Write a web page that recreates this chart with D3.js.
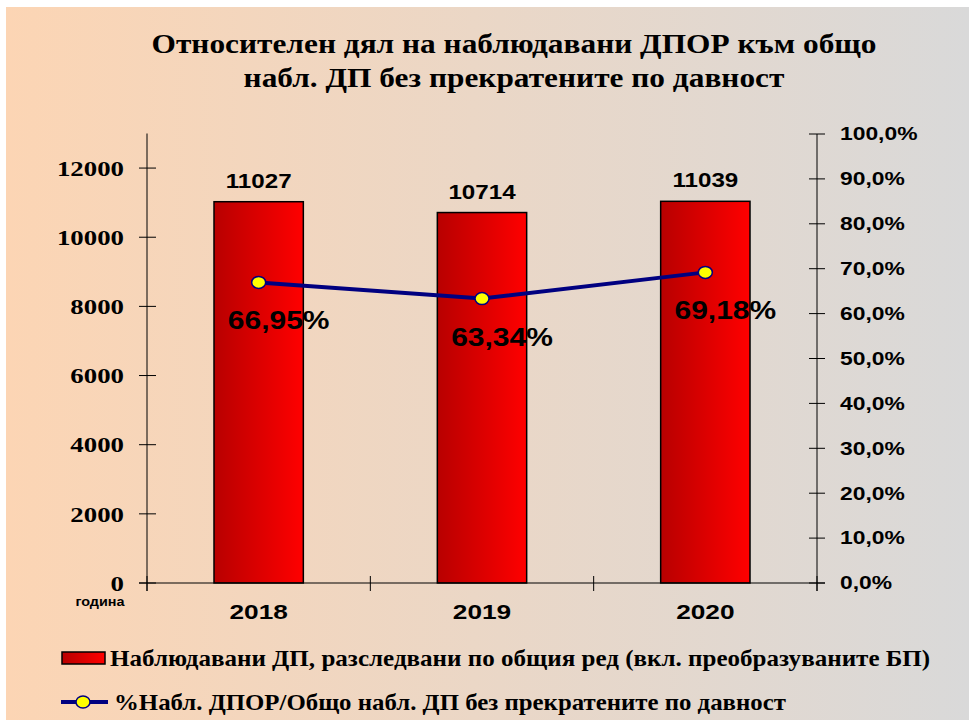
<!DOCTYPE html>
<html>
<head>
<meta charset="utf-8">
<script src="https://cdn.jsdelivr.net/npm/d3@7"></script>
<style>
  body { margin: 0; background: #fff; }
  text { font-weight: bold; fill: #000; }
  .serif { font-family: "Liberation Serif", "Times New Roman", "DejaVu Serif", serif; }
  .sans { font-family: "Liberation Sans", Arial, sans-serif; }
</style>
</head>
<body>
<script>
// data
let years = ["2018", "2019", "2020"];
let cases = [11027, 10714, 11039];
let shares = [0.6695, 0.6334, 0.6918];
let leftTicks = [0, 2000, 4000, 6000, 8000, 10000, 12000];
let rightTicks = [0, 0.1, 0.2, 0.3, 0.4, 0.5, 0.6, 0.7, 0.8, 0.9, 1.0];
let titleLines = ["Относителен дял на наблюдавани ДПОР към общо", "набл. ДП без прекратените по давност"];
let legendBar = "Наблюдавани ДП, разследвани по общия ред (вкл. преобразуваните БП)";
let legendLine = "%Набл. ДПОР/Общо набл. ДП без прекратените по давност";
let axisCaption = "година";

const W = 969, H = 720;

let locale = d3.formatLocale({ decimal: ",", thousands: "", grouping: [3], currency: ["", ""] });
let pct1 = locale.format(".1%");
let pct2 = locale.format(".2%");

let svg = d3.select("body").append("svg")
    .attr("width", W)
    .attr("height", H);

let defs = svg.append("defs");
let bgGrad = defs.append("linearGradient").attr("id", "bgGrad");
bgGrad.append("stop").attr("offset", "0%").attr("stop-color", "#fcd5b4");
bgGrad.append("stop").attr("offset", "100%").attr("stop-color", "#d9d9d9");
let barGrad = defs.append("linearGradient").attr("id", "barGrad");
barGrad.append("stop").attr("offset", "0%").attr("stop-color", "#b80000");
barGrad.append("stop").attr("offset", "100%").attr("stop-color", "#ff0000");

svg.append("rect")
    .attr("x", 6).attr("y", 7)
    .attr("width", W - 6).attr("height", H - 7)
    .attr("fill", "url(#bgGrad)");

// text helper, k = horizontal stretch
function label(g, str, x, y, opts) {
    let t = g.append("text")
        .attr("class", opts.serif ? "serif" : "sans")
        .attr("transform", `translate(${x},${y}) scale(${opts.k || 1},1)`)
        .attr("text-anchor", opts.anchor || "middle")
        .style("font-size", opts.size + "px")
        .text(str);
    if (opts.dy) t.attr("dy", opts.dy);
    return t;
}

// title
label(svg, titleLines[0], 514, 53, { serif: true, size: 28, k: 1.12 });
label(svg, titleLines[1], 514, 87, { serif: true, size: 28, k: 1.12 });

let x0 = 147, x1 = 817, yBase = 583;

let x = d3.scaleBand().domain(years).range([x0, x1]).padding(0);
let yL = d3.scaleLinear().domain([0, 13000]).range([yBase, 133.5]);
let yR = d3.scaleLinear().domain([0, 1]).range([yBase, 134]);

let barW = x.bandwidth() * 0.4;

// bars
svg.selectAll(".bar")
    .data(cases)
    .join("rect")
    .attr("class", "bar")
    .attr("x", (d, i) => x(years[i]) + x.bandwidth() / 2 - barW / 2)
    .attr("y", (d) => yL(d))
    .attr("width", barW)
    .attr("height", (d) => yBase - yL(d))
    .attr("fill", "url(#barGrad)")
    .attr("stroke", "#000")
    .attr("stroke-width", 1.5);

// bar value labels
cases.forEach((d, i) => {
    label(svg, d, x(years[i]) + x.bandwidth() / 2, yL(d) - 14, { size: 21, k: 1.15 });
});

// axes
let leftAxis = svg.append("g");
leftAxis.append("line")
    .attr("x1", x0).attr("x2", x0)
    .attr("y1", yL(13000)).attr("y2", yBase + 8)
    .attr("stroke", "#000");
leftTicks.forEach((t) => {
    leftAxis.append("line")
        .attr("x1", x0 - 8).attr("x2", x0 + 9)
        .attr("y1", yL(t)).attr("y2", yL(t))
        .attr("stroke", "#000");
    label(leftAxis, t, 124, yL(t), { serif: true, size: 22, k: 1.22, anchor: "end", dy: "0.35em" });
});

let rightAxis = svg.append("g");
rightAxis.append("line")
    .attr("x1", x1).attr("x2", x1)
    .attr("y1", yR(1)).attr("y2", yBase + 8)
    .attr("stroke", "#000");
rightTicks.forEach((t) => {
    rightAxis.append("line")
        .attr("x1", x1 - 8).attr("x2", x1 + 8)
        .attr("y1", yR(t)).attr("y2", yR(t))
        .attr("stroke", "#000");
    label(rightAxis, pct1(t), 840, yR(t), { size: 18, k: 1.27, anchor: "start", dy: "0.35em" });
});

let xAxis = svg.append("g");
xAxis.append("line")
    .attr("x1", x0 - 8).attr("x2", x1 + 8)
    .attr("y1", yBase).attr("y2", yBase)
    .attr("stroke", "#000");
[x0, ...years.slice(1).map((y) => x(y)), x1].forEach((p) => {
    xAxis.append("line")
        .attr("x1", p).attr("x2", p)
        .attr("y1", yBase - 7).attr("y2", yBase + 8)
        .attr("stroke", "#000");
});
years.forEach((y) => {
    label(xAxis, y, x(y) + x.bandwidth() / 2, 619, { size: 21, k: 1.25 });
});
label(xAxis, axisCaption, 100, 606, { size: 12, k: 1.2 });

// line series
let pts = shares.map((d, i) => [x(years[i]) + x.bandwidth() / 2, yR(d)]);
svg.append("path")
    .attr("d", d3.line()(pts))
    .attr("fill", "none")
    .attr("stroke", "#000080")
    .attr("stroke-width", 4);
svg.selectAll(".pt")
    .data(pts)
    .join("ellipse")
    .attr("class", "pt")
    .attr("cx", (d) => d[0])
    .attr("cy", (d) => d[1])
    .attr("rx", 7)
    .attr("ry", 6)
    .attr("fill", "#ffff00")
    .attr("stroke", "#000080")
    .attr("stroke-width", 1.5);
shares.forEach((d, i) => {
    label(svg, pct2(d), pts[i][0] + 20, pts[i][1] + 47, { size: 25, k: 1.2 });
});

// legend
let leg = svg.append("g");
leg.append("rect")
    .attr("x", 62).attr("y", 652)
    .attr("width", 43).attr("height", 12)
    .attr("fill", "url(#barGrad)")
    .attr("stroke", "#000")
    .attr("stroke-width", 1.5);
label(leg, legendBar, 110, 666, { serif: true, size: 23, k: 1.09, anchor: "start" });

leg.append("line")
    .attr("x1", 61).attr("x2", 108)
    .attr("y1", 702).attr("y2", 702)
    .attr("stroke", "#000080")
    .attr("stroke-width", 4);
leg.append("ellipse")
    .attr("cx", 83).attr("cy", 702)
    .attr("rx", 7).attr("ry", 6)
    .attr("fill", "#ffff00")
    .attr("stroke", "#000080")
    .attr("stroke-width", 1.5);
label(leg, legendLine, 114, 710, { serif: true, size: 23, k: 1.08, anchor: "start" });
</script>
</body>
</html>
